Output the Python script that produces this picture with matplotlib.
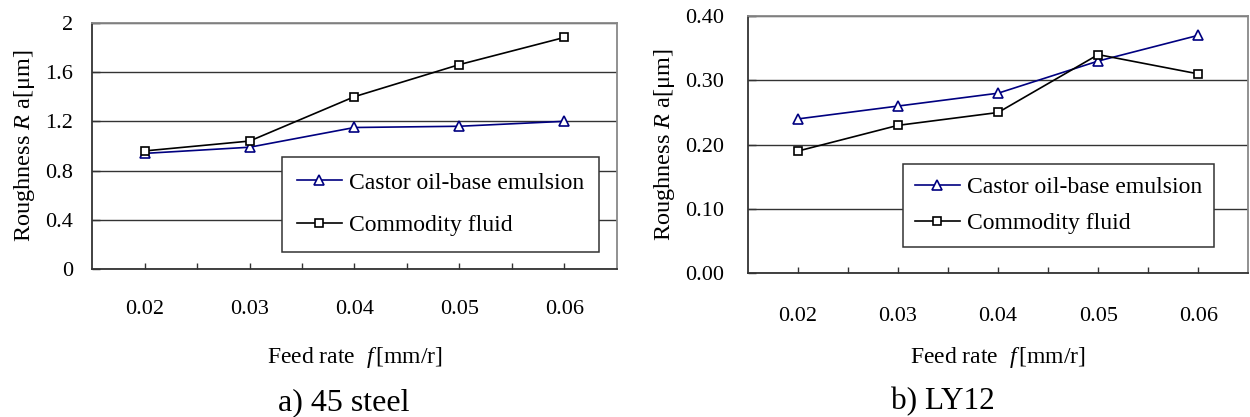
import matplotlib
matplotlib.use('Agg')
import matplotlib.pyplot as plt
from matplotlib.ticker import FixedLocator

plt.rcParams['font.family'] = ['Liberation Serif', 'DejaVu Serif']
plt.rcParams['mathtext.fontset'] = 'custom'
plt.rcParams['mathtext.rm'] = 'Liberation Serif'
plt.rcParams['mathtext.it'] = 'Liberation Serif:italic'

# data
feedRate = [0.02, 0.03, 0.04, 0.05, 0.06]
feedLabels = ['0.02', '0.03', '0.04', '0.05', '0.06']
halfTicks = [0.025, 0.035, 0.045, 0.055]

castorSteel = [0.94, 0.99, 1.15, 1.16, 1.20]
commoditySteel = [0.96, 1.04, 1.40, 1.66, 1.88]
steelTicks = [0, 0.4, 0.8, 1.2, 1.6, 2.0]
steelTickLabels = ['0', '0.4', '0.8', '1.2', '1.6', '2']

castorLY12 = [0.24, 0.26, 0.28, 0.33, 0.37]
commodityLY12 = [0.19, 0.23, 0.25, 0.34, 0.31]
ly12Ticks = [0, 0.1, 0.2, 0.3, 0.4]
ly12TickLabels = ['0.00', '0.10', '0.20', '0.30', '0.40']

navy = '#000080'
gridCol = '#333333'
frameCol = '#888888'


def drawPanel(ax, castor, commodity, yticks, ylabels, ypad, xpad, xlabpad, ylabpad):
    ax.plot(feedRate, castor, color=navy, lw=1.2, marker='^', ms=6.5,
            mfc='white', mec=navy, mew=1.2, label='Castor oil-base emulsion', zorder=3)
    ax.plot(feedRate, commodity, color='black', lw=1.2, marker='s', ms=6,
            mfc='white', mec='black', mew=1.2, label='Commodity fluid', zorder=4)

    ax.set_xlim(0.015, 0.065)
    ax.set_ylim(yticks[0], yticks[-1])
    ax.xaxis.set_major_locator(FixedLocator(feedRate))
    ax.set_xticklabels(feedLabels)
    ax.xaxis.set_minor_locator(FixedLocator(halfTicks))
    ax.set_yticks(yticks)
    ax.set_yticklabels(ylabels)
    ax.tick_params(axis='x', which='both', direction='in', length=4, width=1,
                   color=gridCol, pad=xpad, labelsize=16, top=False)
    ax.tick_params(axis='y', direction='in', length=6, width=1, color=gridCol,
                   pad=ypad, labelsize=16, right=False)
    ax.yaxis.grid(True, color=gridCol, lw=1)
    ax.set_axisbelow(True)
    for s in ['left', 'bottom']:
        ax.spines[s].set_color(gridCol)
        ax.spines[s].set_linewidth(1.3)
    for s in ['top', 'right']:
        ax.spines[s].set_color(frameCol)
        ax.spines[s].set_linewidth(1.3)
    ax.set_ylabel('Roughness $\\it{R}$ a[\u03bcm]', fontsize=17.5, labelpad=ylabpad)
    ax.set_xlabel('Feed rate  $\\it{f}\\,$[mm/r]', fontsize=17, labelpad=xlabpad)


def addLegend(ax, corner, bpad, lspace):
    leg = ax.legend(loc='upper left', bbox_to_anchor=corner, fontsize=17,
                    frameon=True, fancybox=False, framealpha=1, edgecolor='#333333',
                    handlelength=1.9, handletextpad=0.3, borderpad=bpad,
                    labelspacing=lspace, borderaxespad=0)
    leg.get_frame().set_linewidth(1.1)


fig = plt.figure(figsize=(12.5, 4.17), dpi=100)

ax1 = fig.add_axes([0.0738, 0.3542, 0.4195, 0.5914])
drawPanel(ax1, castorSteel, commoditySteel, steelTicks, steelTickLabels, 14, 22, 19, 6)
addLegend(ax1, (0.3612, 0.4566), 0.65, 0.9)

ax2 = fig.add_axes([0.5982, 0.3446, 0.4005, 0.617])
drawPanel(ax2, castorLY12, commodityLY12, ly12Ticks, ly12TickLabels, 17, 24, 14, 6)
addLegend(ax2, (0.3096, 0.4236), 0.52, 0.62)

fig.text(344 / 1250, 1 - 403 / 417, 'a) 45 steel', ha='center', va='center', fontsize=23)
fig.text(943 / 1250, 1 - 402 / 417, 'b) LY12', ha='center', va='center', fontsize=22.5)

fig.savefig('out.png', dpi=100)
